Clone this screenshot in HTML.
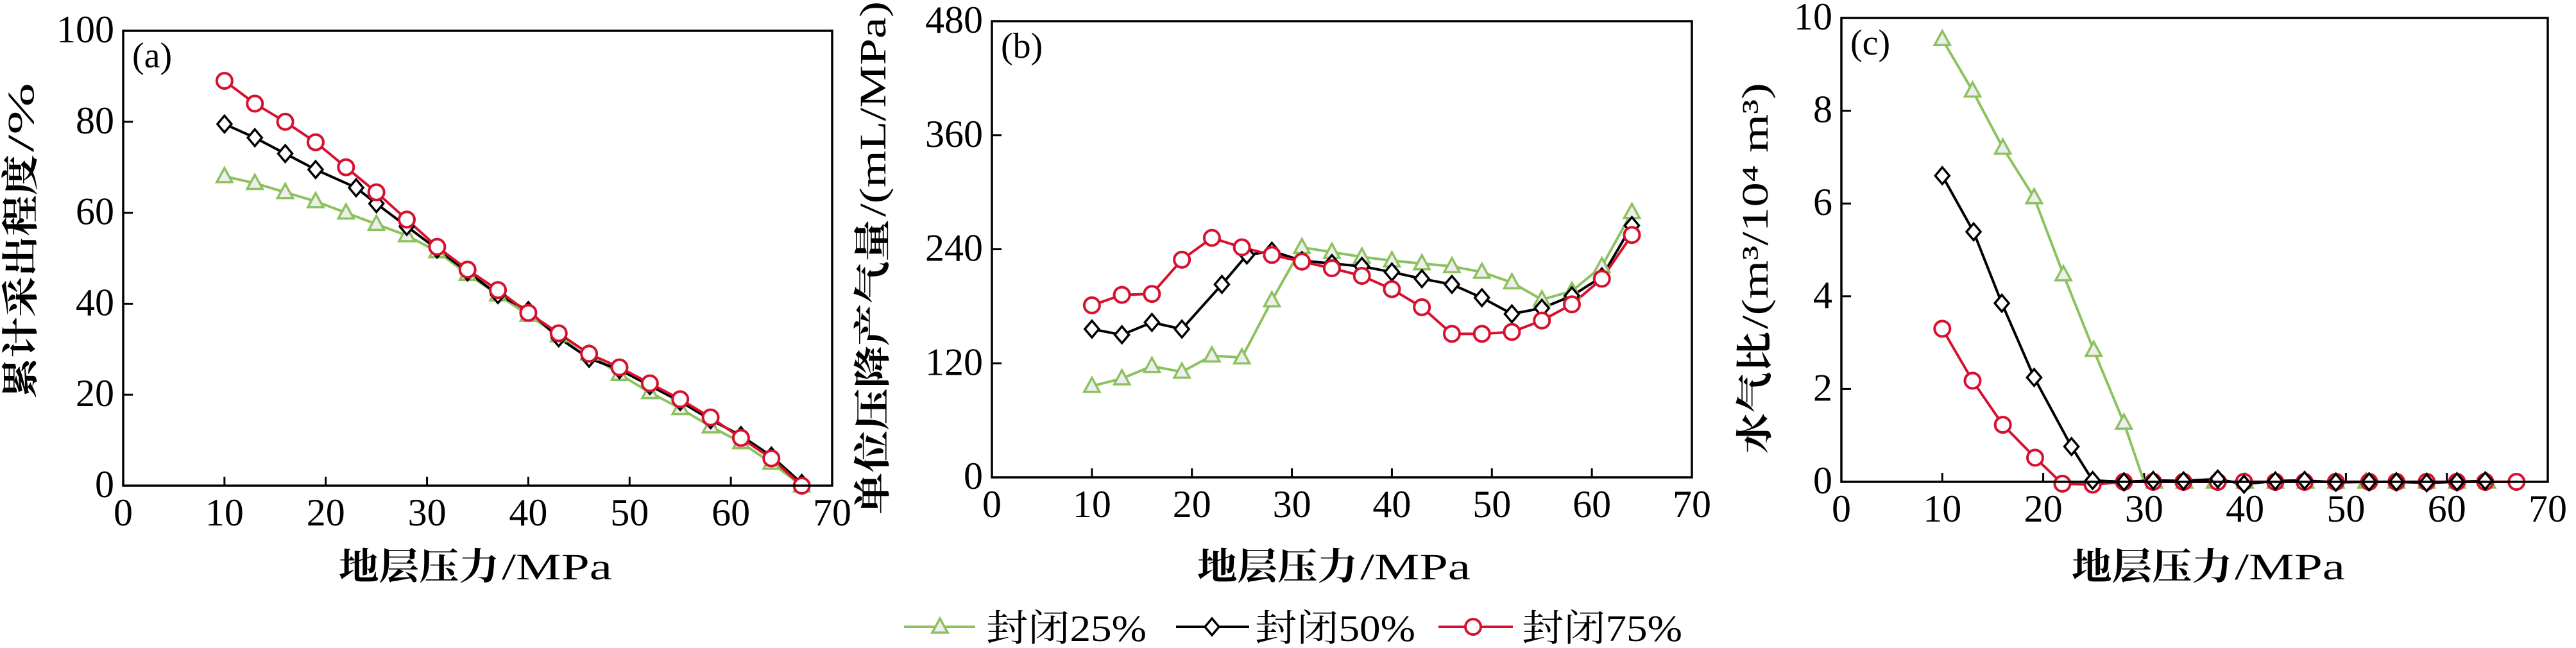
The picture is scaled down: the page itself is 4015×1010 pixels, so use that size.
<!DOCTYPE html>
<html><head><meta charset="utf-8"><style>html,body{margin:0;padding:0;background:#fff}svg{display:block}</style></head>
<body>
<svg id="s" xmlns="http://www.w3.org/2000/svg" width="4015" height="1010" viewBox="0 0 4015 1010" font-family="'Liberation Serif','Noto Serif CJK SC',serif"></svg>
<script>
const NS="http://www.w3.org/2000/svg",S=document.getElementById('s');
function el(t,a,p){const e=document.createElementNS(NS,t);for(const k in a)e.setAttribute(k,a[k]);(p||S).appendChild(e);return e;}
function txt(s,a,p){const e=el('text',a,p);e.textContent=s;return e;}
// two-part title: group g positioned at start; cjk bold part width w1, latin width w2
function title2(g,cjk,lat,w1,w2){
 txt(cjk,{x:0,y:0,'font-size':58,'font-weight':'bold',textLength:w1,lengthAdjust:'spacingAndGlyphs'},g);
 txt(lat,{x:w1+4,y:0,'font-size':58,textLength:w2,lengthAdjust:'spacingAndGlyphs'},g);
}
const G='#8cc25e',R='#d7102f',K='#000';
function marker(type,x,y,c){
 if(type==='t')el('polygon',{points:`${x},${y-13} ${x-12},${y+9} ${x+12},${y+9}`,fill:'#eee',stroke:c,'stroke-width':3.5});
 else if(type==='d')el('polygon',{points:`${x},${y-13} ${x+11},${y} ${x},${y+13} ${x-11},${y}`,fill:'#fff',stroke:c,'stroke-width':3.5});
 else el('circle',{cx:x,cy:y,r:12,fill:'#fff',stroke:c,'stroke-width':4});
}
function panel(P){
 const X=v=>P.l+(P.r-P.l)*v/70, Y=v=>P.b-(P.b-P.t)*v/P.ymax;
 for(let v=10;v<70;v+=10){el('line',{x1:X(v),y1:P.b,x2:X(v),y2:P.b-14,stroke:K,'stroke-width':3});}
 for(let v=0;v<=70;v+=10)txt(String(v),{x:X(v),y:P.b+62,'font-size':60,'text-anchor':'middle'});
 P.yt.forEach(v=>{if(v>0&&v<P.ymax)el('line',{x1:P.l,y1:Y(v),x2:P.l+15,y2:Y(v),stroke:K,'stroke-width':3});
  txt(String(v),{x:P.l-14,y:Y(v)+18,'font-size':60,'text-anchor':'end'});});
 P.series.forEach(s=>{
  el('polyline',{points:s.d.map(p=>X(p[0])+','+Y(p[1])).join(' '),fill:'none',stroke:s.c,'stroke-width':4,'stroke-linejoin':'round'});
 });
 P.series.forEach(s=>{s.d.forEach(p=>{if(p[2]!==0)marker(s.m,X(p[0]),Y(p[1]),s.c);});});
 el('rect',{x:P.l,y:P.t,width:P.r-P.l,height:P.b-P.t,fill:'none',stroke:K,'stroke-width':3.5});
 txt(P.lab,{x:P.l+14,y:P.t+57,'font-size':56});
 const gx=el('g',{transform:`translate(${P.xc-213},903)`});
 title2(gx,'地层压力','/MPa',250,172);
 const tot=P.w1+P.w2+4;
 const gy=el('g',{transform:`translate(${P.yx},${P.yc+tot/2}) rotate(-90)`});
 title2(gy,P.c1,P.c2,P.w1,P.w2);
}
const xs=[10,13,16,19,22,25,28,31,34,37,40,43,46,49,52,55,58,61,64,67];
panel({l:192,r:1297,t:48,b:757,ymax:100,yt:[0,20,40,60,80,100],lab:'(a)',xc:741,c1:'累计采出程度',c2:'/%',w1:380,w2:108,yx:52,yc:375,
 series:[
 {c:G,m:'t',d:[68,66.5,64.5,62.5,60,57.5,55,51.5,46.5,42,37.5,33,29,24.5,20.5,17,13,9.5,5,0].map((v,i)=>[xs[i],v])},
 {c:K,m:'d',d:[[10,79.5],[13,76.5],[16,73],[19,69.5],[23,65.5],[25,62],[28,57],[31,52],[34,47],[37,42],[40,38.5],[43,32.5],[46,28],[49,25.5],[52,22],[55,18.5],[58,14.5],[61,11],[64,6.5],[67,0.5]]},
 {c:R,m:'c',d:[89,84,80,75.5,70,64.5,58.5,52.5,47.5,43,38,33.5,29,26,22.5,19,15,10.5,6,0].map((v,i)=>[xs[i],v])}
 ]});
const xb=[10,13,16,19,22,25,28,31,34,37,40,43,46,49,52,55,58,61,64];
panel({l:1546,r:2637,t:33,b:744,ymax:480,yt:[0,120,240,360,480],lab:'(b)',xc:2079,c1:'单位压降产气量',c2:'/(mL/MPa)',w1:460,w2:336,yx:1380,yc:402,
 series:[
 {c:G,m:'t',d:[96,104,117,111,128,126,186,242,237,232,228,225,222,216,205,187,196,222,279].map((v,i)=>[xb[i],v])},
 {c:K,m:'d',d:[[10,156],[13,150],[16,163],[19,156],[23,203],[25.5,234],[28,238],[31,228],[34,225],[37,222],[40,216],[43,209],[46,203],[49,189],[52,172],[55,178],[58,191],[61,211],[64,265]]},
 {c:R,m:'c',d:[181,192,193,229,252,242,234,227,220,212,198,179,151,151,153,165,182,209,255].map((v,i)=>[xb[i],v])}
 ]});
const fl=[28,30.9,33.9,37.3,39.9,43,45.9,49,52.3,55,58,61,63.8];
panel({l:2870,r:3971,t:28,b:751,ymax:10,yt:[0,2,4,6,8,10],lab:'(c)',xc:3442,c1:'水气比',c2:'/(m³/10⁴ m³)',w1:190,w2:384,yx:2755,yc:418,
 series:[
 {c:G,m:'t',d:[[10,9.54],[13,8.43],[16,7.2],[19.1,6.13],[22,4.47],[25,2.84],[28,1.27],[30,0,0],[31,0],[34,0],[37,0],[40,0],[43,0],[46,0],[49,0],[52,0],[55,0],[58,0],[61,0],[64,0]]},
 {c:R,m:'c',d:[[10,3.3],[13,2.18],[16,1.23],[19.2,0.52],[21.9,-0.04],[24.9,-0.06]].concat(fl.map(x=>[x,0])).concat([[66.9,0]])},
 {c:K,m:'d',d:[[10,6.6],[13.1,5.39],[15.9,3.85],[19.1,2.25],[22.8,0.76],[24.9,0.03]].concat(fl.map((x,i)=>[x,[0,0.03,0.02,0.06,-0.05,0.02,0.03,-0.01,0,0,-0.02,0,0.02][i]]))}
 ]});
const ly=977;
[[G,'t',1409,1520,1465,1537,'封闭25%'],[K,'d',1833,1947,1889,1956,'封闭50%'],[R,'c',2242,2358,2296,2372,'封闭75%']].forEach(a=>{
 el('line',{x1:a[2],y1:ly,x2:a[3],y2:ly,stroke:a[0],'stroke-width':4});
 marker(a[1],a[4],ly,a[0]);
 txt(a[6],{x:a[5],y:ly+22,'font-size':58,textLength:250,lengthAdjust:'spacingAndGlyphs'});
});
</script>
</body></html>
